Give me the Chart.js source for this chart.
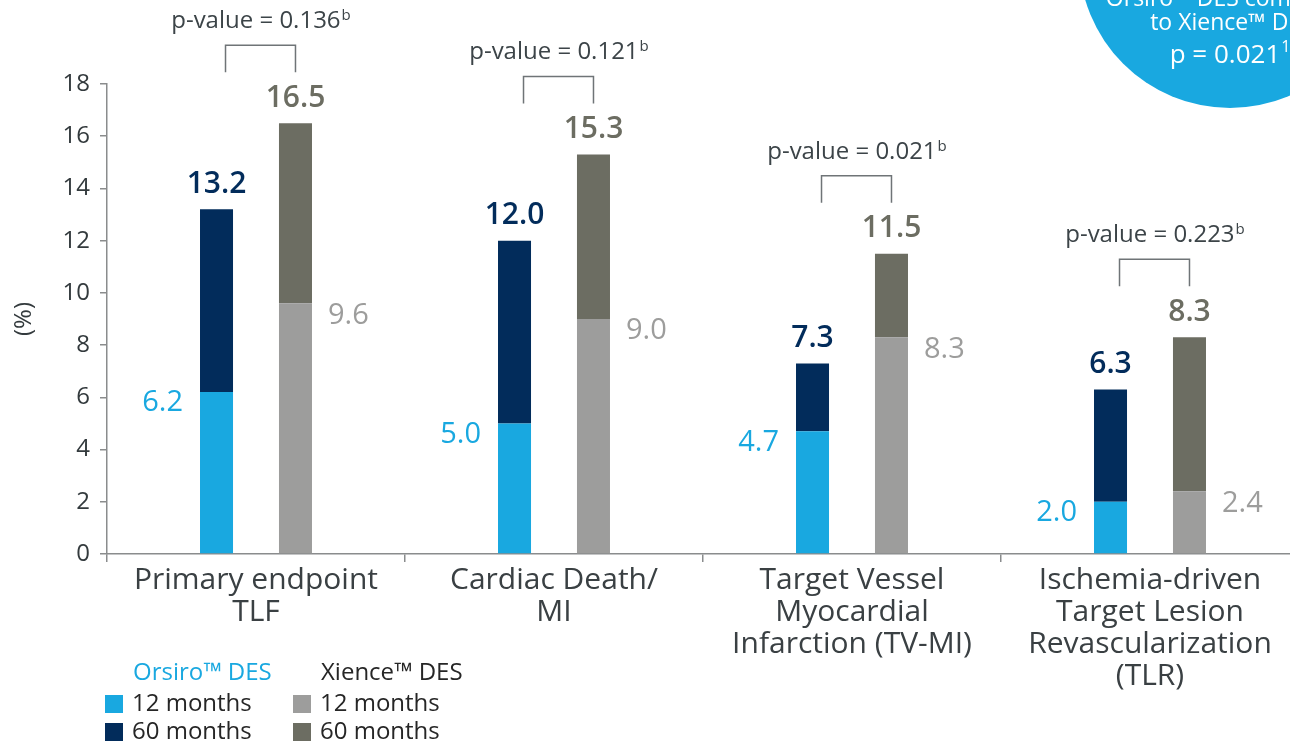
<!DOCTYPE html>
<html>
<head>
<meta charset="utf-8">
<script src="https://cdn.jsdelivr.net/npm/chart.js@4.4.0/dist/chart.umd.min.js"></script>
<style>
  html, body { margin: 0; padding: 0; background: #ffffff; overflow: hidden; }
  #contenedor { position: relative; width: 1299px; height: 745px; }
</style>
</head>
<body>
<div id="contenedor">
  <canvas id="GraphEventos"></canvas>
</div>
<script>
// datos del grafico
var categorias = [
  ["Primary endpoint", "TLF"],
  ["Cardiac Death/", "MI"],
  ["Target Vessel", "Myocardial", "Infarction (TV-MI)"],
  ["Ischemia-driven", "Target Lesion", "Revascularization", "(TLR)"],
];
var orsiro12 = [6.2, 5.0, 4.7, 2.0];
var orsiro60 = [13.2, 12.0, 7.3, 6.3];
var xience12 = [9.6, 9.0, 8.3, 2.4];
var xience60 = [16.5, 15.3, 11.5, 8.3];
var pValores = ["0.136", "0.121", "0.021", "0.223"];
var ejeYMin = 0;
var ejeYMax = 18;
var ejeYPaso = 2;

var fuente = "'Open Sans', 'Noto Sans', sans-serif";
var celeste = "#19a8e0";
var azul = "#022c5b";
var grisClaro = "#9d9d9c";
var grisOscuro = "#6c6d62";
var colorEje = "#8a8c8d";

function texto(ctx, str, x, y, size, weight, color, align) {
  ctx.font = weight + " " + size + "px " + fuente;
  ctx.fillStyle = color;
  ctx.textAlign = align;
  ctx.textBaseline = "middle";
  ctx.fillText(str, x, y);
}

// texto con superindice, centrado en x
function textoSup(ctx, str, sup, x, y, size, supSize, color) {
  ctx.font = "400 " + size + "px " + fuente;
  var w1 = ctx.measureText(str).width;
  ctx.font = "400 " + supSize + "px " + fuente;
  var w2 = ctx.measureText(sup).width;
  var inicio = x - (w1 + w2) / 2;
  texto(ctx, str, inicio, y, size, "400", color, "left");
  texto(ctx, sup, inicio + w1 + 1, y - size * 0.22, supSize, "400", color, "left");
}

var etiquetasPlugin = {
  id: "etiquetas",
  afterDatasetsDraw: function (chart) {
    var ctx = chart.ctx;
    ctx.save();
    var m0 = chart.getDatasetMeta(0);
    var m1 = chart.getDatasetMeta(1);
    var m2 = chart.getDatasetMeta(2);
    var m3 = chart.getDatasetMeta(3);
    for (var i = 0; i < categorias.length; i++) {
      var b0 = m0.data[i], b1 = m1.data[i], b2 = m2.data[i], b3 = m3.data[i];
      texto(ctx, orsiro12[i].toFixed(1), b0.x - b0.width / 2 - 17, b0.y + 11, 29, "400", celeste, "right");
      texto(ctx, orsiro60[i].toFixed(1), b1.x, b1.y - 25, 30, "600", azul, "center");
      texto(ctx, xience12[i].toFixed(1), b2.x + b2.width / 2 + 16, b2.y + 12, 29, "400", grisClaro, "left");
      texto(ctx, xience60[i].toFixed(1), b3.x, b3.y - 25, 30, "600", grisOscuro, "center");

      // corchete del p-value
      var abajo = Math.min(b1.y, b3.y) - 51;
      var arriba = abajo - 27;
      var xi = b1.x + 9;
      var xd = b3.x;
      ctx.strokeStyle = "#6f7477";
      ctx.lineWidth = 1.5;
      ctx.beginPath();
      ctx.moveTo(xi, abajo);
      ctx.lineTo(xi, arriba);
      ctx.lineTo(xd, arriba);
      ctx.lineTo(xd, abajo);
      ctx.stroke();
      textoSup(ctx, "p-value = " + pValores[i], "b", (xi + xd) / 2, arriba - 24, 24, 15, "#3c4448");
    }
    ctx.restore();
  },
  afterDraw: function (chart) {
    var ctx = chart.ctx;
    ctx.save();
    // circulo de la esquina
    ctx.fillStyle = celeste;
    ctx.beginPath();
    ctx.arc(1230, -43, 151, 0, Math.PI * 2);
    ctx.fill();
    ctx.font = "400 23px " + fuente;
    ctx.fillStyle = "#ffffff";
    ctx.textAlign = "center";
    ctx.textBaseline = "alphabetic";
    ctx.fillText("Orsiro\u2122 DES compared", 1230, 6);
    ctx.fillText("to Xience\u2122 DES", 1232, 30);
    ctx.font = "400 26px " + fuente;
    var w = ctx.measureText("p = 0.021").width;
    ctx.textAlign = "left";
    ctx.fillText("p = 0.021", 1230 - w / 2 - 5, 63);
    ctx.font = "400 16px " + fuente;
    ctx.fillText("1", 1230 + w / 2 - 4, 52);

    // leyenda
    texto(ctx, "Orsiro\u2122 DES", 133, 673, 24, "400", celeste, "left");
    texto(ctx, "Xience\u2122 DES", 321, 673, 24, "400", "#262626", "left");
    var cuadros = [
      [105, 695, celeste, "12 months"],
      [105, 723, azul, "60 months"],
      [293, 695, grisClaro, "12 months"],
      [293, 723, grisOscuro, "60 months"],
    ];
    cuadros.forEach(function (c) {
      ctx.fillStyle = c[2];
      ctx.fillRect(c[0], c[1], 18, 18);
      texto(ctx, c[3], c[0] + 27, c[1] + 9, 24, "400", "#262626", "left");
    });
    ctx.restore();
  },
};

function GraficoEventos() {
  const ctx = document.getElementById("GraphEventos");

  window.graphEventos = new Chart(ctx, {
    type: "bar",
    data: {
      labels: categorias,
      datasets: [
        {
          label: "Orsiro DES 12 months",
          data: orsiro12,
          stack: "orsiro",
          backgroundColor: celeste,
        },
        {
          label: "Orsiro DES 60 months",
          data: orsiro60.map(function (v, i) { return [orsiro12[i], v]; }),
          stack: "orsiro",
          backgroundColor: azul,
        },
        {
          label: "Xience DES 12 months",
          data: xience12,
          stack: "xience",
          backgroundColor: grisClaro,
        },
        {
          label: "Xience DES 60 months",
          data: xience60.map(function (v, i) { return [xience12[i], v]; }),
          stack: "xience",
          backgroundColor: grisOscuro,
        },
      ],
    },
    options: {
      responsive: true,
      maintainAspectRatio: false,
      animation: false,
      categoryPercentage: 0.53,
      barPercentage: 0.418,
      layout: { padding: { top: 84, right: 0, left: 0, bottom: 0 } },
      plugins: {
        legend: { display: false },
        tooltip: { enabled: false },
      },
      scales: {
        x: {
          stacked: true,
          afterFit: function (scale) { scale.height = 191; },
          grid: {
            offset: true,
            drawOnChartArea: false,
            tickLength: 8,
            color: colorEje,
            lineWidth: 1.5,
          },
          border: { color: colorEje, width: 1.5 },
          ticks: {
            padding: 2,
            color: "#3a4043",
            maxRotation: 0,
            autoSkip: false,
            font: { family: fuente, size: 30, lineHeight: "32px" },
          },
        },
        y: {
          stacked: false,
          min: ejeYMin,
          max: ejeYMax,
          afterFit: function (scale) { scale.width = 107; },
          grid: {
            drawOnChartArea: false,
            tickLength: 7,
            color: colorEje,
            lineWidth: 1.5,
          },
          border: { color: colorEje, width: 1.5 },
          ticks: {
            stepSize: ejeYPaso,
            padding: 10,
            color: "#333a3d",
            font: { family: fuente, size: 24 },
          },
          title: {
            display: true,
            text: "(%)",
            color: "#333a3d",
            padding: { top: 10, bottom: 0 },
            font: { family: fuente, size: 24 },
          },
        },
      },
    },
    plugins: [etiquetasPlugin],
  });
}

window.onload = function () {
  GraficoEventos();
};
</script>
</body>
</html>
